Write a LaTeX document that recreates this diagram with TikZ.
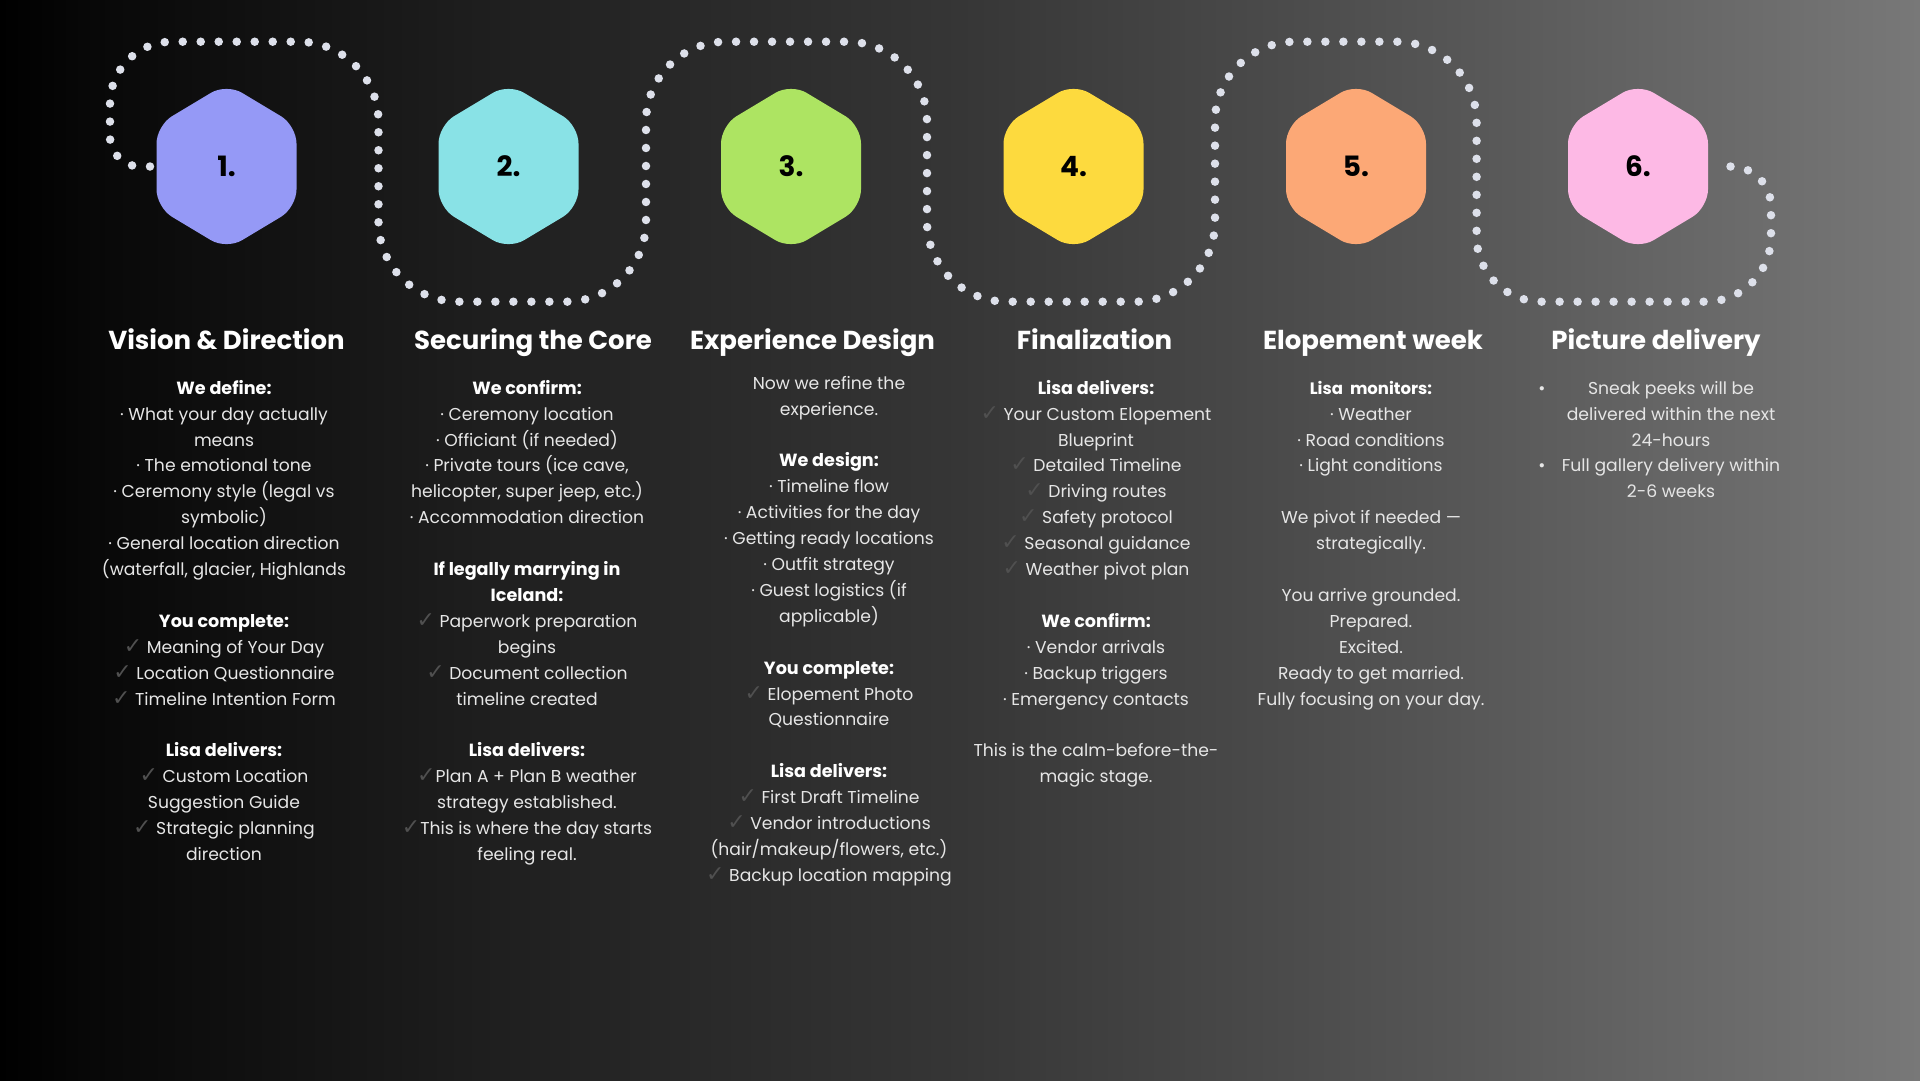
\documentclass[tikz,border=0pt]{standalone}
\usepackage{fontspec}
\setmainfont{Poppins}
\newfontfamily\dejavu{DejaVu Sans}
\usetikzlibrary{calc}
\definecolor{g0}{HTML}{000000}
\definecolor{g1}{HTML}{080808}
\definecolor{g2}{HTML}{1E1E1E}
\definecolor{g3}{HTML}{363636}
\definecolor{g4}{HTML}{555555}
\definecolor{g5}{HTML}{787878}
\definecolor{bodytxt}{HTML}{E6E6E6}
\definecolor{ckc}{HTML}{505050}
\definecolor{dotc}{HTML}{DDE0EA}
\definecolor{hA}{HTML}{9599F6}
\definecolor{hB}{HTML}{89E2E6}
\definecolor{hC}{HTML}{ADE462}
\definecolor{hD}{HTML}{FDDA3E}
\definecolor{hE}{HTML}{FCA876}
\definecolor{hF}{HTML}{FDB9E5}
\pgfdeclarehorizontalshading{bgshade}{100bp}{color(0bp)=(g0); color(25bp)=(g0); color(27.5bp)=(g1); color(37.5bp)=(g2); color(50bp)=(g3); color(62.5bp)=(g4); color(75bp)=(g5); color(100bp)=(g5)}
\newcommand\ck{{\dejavu\fontsize{22}{25.9}\selectfont\color{ckc}✓}}
\newcommand\hd[1]{{\fontsize{17.6}{25.9}\selectfont\bfseries\color{white}#1}}
\newcommand\fl{\rule{0pt}{18pt}}
\newcommand\hexshape[2]{\fill[#2, rounded corners=18pt, shift={(#1)}] (0,-83) -- (70,-41) -- (70,41) -- (0,83) -- (-70,41) -- (-70,-41) -- cycle;}
\begin{document}
\begin{tikzpicture}[x=1pt,y=-1pt,
  dotline/.style={draw=dotc, line width=8.5pt, line cap=round, dash pattern=on 0pt off 18pt},
  num/.style={font=\fontsize{28}{30}\selectfont\bfseries, text=black, inner sep=0pt, anchor=center},
  title/.style={font=\fontsize{26}{30}\selectfont\bfseries, text=white, inner sep=0pt, anchor=base},
  body/.style={font=\fontsize{17.2}{25.9}\selectfont, text=bodytxt, align=center, inner sep=0pt, anchor=north},
  bul/.style={font=\fontsize{17.2}{25.9}\selectfont, text=bodytxt, inner sep=0pt, anchor=base}]
\useasboundingbox (0,0) rectangle (1920,1080);
\shade[shading=bgshade] (0,0) rectangle (1920,1080);
% dotted serpentine
\draw[dotline] (150,166.5) [rounded corners=30pt] -- (110,166.5) [rounded corners=62pt] -- (110,41.7) [rounded corners=80pt] -- (378.5,41.7) -- (378.5,301.7) -- (646,301.7) -- (646,41.7) -- (927,41.7) -- (927,301.7) -- (1215,301.7) -- (1215,41.7) -- (1476.6,41.7) [rounded corners=65pt] -- (1476.6,301.7) -- (1771,301.7) [rounded corners=40pt] -- (1771,166.5) -- (1718,166.5);
% hexagons
\hexshape{226.5,166.5}{hA}
\hexshape{508.5,166.5}{hB}
\hexshape{791,166.5}{hC}
\hexshape{1073.5,166.5}{hD}
\hexshape{1356,166.5}{hE}
\hexshape{1638,166.5}{hF}
\node[num] (n1) at (226.5,166.5) {1.};
\node[num] (n2) at (508.5,166.5) {2.};
\node[num] (n3) at (791,166.5) {3.};
\node[num] (n4) at (1073.5,166.5) {4.};
\node[num] (n5) at (1356,166.5) {5.};
\node[num] (n6) at (1638,166.5) {6.};
% titles
\node[title] (t1) at (226.5,349) {Vision \& Direction};
\node[title] (t2) at (533,349) {Securing the Core};
\node[title] (t3) at (812.5,349) {Experience Design};
\node[title] (t4) at (1094.5,349) {Finalization};
\node[title] (t5) at (1373,349) {Elopement week};
\node[title] (t6) at (1656,349) {Picture delivery};
% columns
\node[body] (c1) at (224,376) {\fl\hd{We define:}\\
· What your day actually\\
means\\
· The emotional tone\\
· Ceremony style (legal vs\\
symbolic)\\
· General location direction\\
(waterfall, glacier, Highlands\\[25.9pt]
\hd{You complete:}\\
\ck\ Meaning of Your Day\\
\ck\ Location Questionnaire\\
\ck\ Timeline Intention Form\\[25.9pt]
\hd{Lisa delivers:}\\
\ck\ Custom Location\\
Suggestion Guide\\
\ck\ Strategic planning\\
direction};
\node[body] (c2) at (527,376) {\fl\hd{We confirm:}\\
· Ceremony location\\
· Officiant (if needed)\\
· Private tours (ice cave,\\
helicopter, super jeep, etc.)\\
· Accommodation direction\\[25.9pt]
\hd{If legally marrying in}\\
\hd{Iceland:}\\
\ck\ Paperwork preparation\\
begins\\
\ck\ Document collection\\
timeline created\\[25.9pt]
\hd{Lisa delivers:}\\
\ck Plan A + Plan B weather\\
strategy established.\\
\ck This is where the day starts\\
feeling real.};
\node[body] (c3) at (829,371) {\fl Now we refine the\\
experience.\\[25.9pt]
\hd{We design:}\\
· Timeline flow\\
· Activities for the day\\
· Getting ready locations\\
· Outfit strategy\\
· Guest logistics (if\\
applicable)\\[25.9pt]
\hd{You complete:}\\
\ck\ Elopement Photo\\
Questionnaire\\[25.9pt]
\hd{Lisa delivers:}\\
\ck\ First Draft Timeline\\
\ck\ Vendor introductions\\
(hair/makeup/flowers, etc.)\\
\ck\ Backup location mapping};
\node[body] (c4) at (1096,376) {\fl\hd{Lisa delivers:}\\
\ck\ Your Custom Elopement\\
Blueprint\\
\ck\ Detailed Timeline\\
\ck\ Driving routes\\
\ck\ Safety protocol\\
\ck\ Seasonal guidance\\
\ck\ Weather pivot plan\\[25.9pt]
\hd{We confirm:}\\
· Vendor arrivals\\
· Backup triggers\\
· Emergency contacts\\[25.9pt]
This is the calm-before-the-\\
magic stage.};
\node[body] (c5) at (1371,376) {\fl{\fontsize{16.5}{25.9}\selectfont\bfseries\color{white}Lisa\ \ monitors:}\\
· Weather\\
· Road conditions\\
· Light conditions\\[25.9pt]
We pivot if needed —\\
strategically.\\[25.9pt]
You arrive grounded.\\
Prepared.\\
Excited.\\
Ready to get married.\\
Fully focusing on your day.};
\node[body] (c6) at (1671,376) {\fl Sneak peeks will be\\
delivered within the next\\
24-hours\\
Full gallery delivery within\\
2-6 weeks};
\node[bul] (b1) at (1542,394) {•};
\node[bul] (b2) at (1542,471.7) {•};
\end{tikzpicture}
\end{document}
